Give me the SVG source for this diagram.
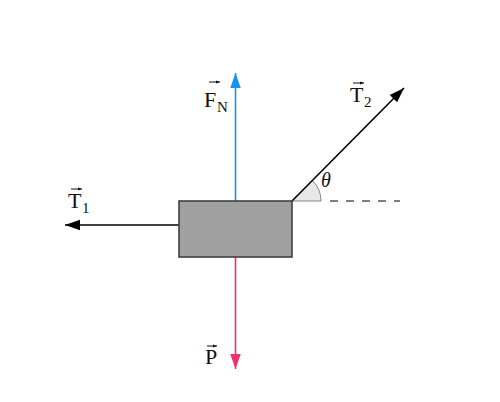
<svg xmlns="http://www.w3.org/2000/svg" width="500" height="402" viewBox="0 0 500 402">
<defs>
<style>
.lbl{font-family:"Liberation Serif","DejaVu Serif",serif;font-size:22px;fill:#111}
.sub{font-family:"Liberation Serif","DejaVu Serif",serif;font-size:15px;fill:#111}
.th{font-family:"Liberation Serif","DejaVu Serif",serif;font-size:20px;font-style:italic;fill:#111}
.vec{stroke:#111;stroke-width:1;fill:none}
</style>
<marker id="hb" viewBox="0 0 10 10" refX="10" refY="5" markerWidth="15" markerHeight="15" markerUnits="userSpaceOnUse" orient="auto"><path d="M0,1.5 L10,5 L0,8.5 Z" fill="#1a90f0"/></marker>
<marker id="hr" viewBox="0 0 10 10" refX="10" refY="5" markerWidth="15" markerHeight="15" markerUnits="userSpaceOnUse" orient="auto"><path d="M0,1.5 L10,5 L0,8.5 Z" fill="#f0306a"/></marker>
<marker id="hk" viewBox="0 0 10 10" refX="10" refY="5" markerWidth="15" markerHeight="15" markerUnits="userSpaceOnUse" orient="auto"><path d="M0,1.5 L10,5 L0,8.5 Z" fill="#000"/></marker>
<marker id="hv" viewBox="0 0 10 10" refX="10" refY="5" markerWidth="4.5" markerHeight="4.5" markerUnits="userSpaceOnUse" orient="auto"><path d="M0,1 L10,5 L0,9 Z" fill="#111"/></marker>
</defs>
<g id="connectors">
<line x1="235.5" y1="201" x2="235.5" y2="73" stroke="#1a90f0" stroke-width="1.6" marker-end="url(#hb)"/>
<line x1="235.5" y1="257" x2="235.5" y2="369" stroke="#f0306a" stroke-width="1.6" marker-end="url(#hr)"/>
<line x1="179" y1="225" x2="65" y2="225" stroke="#000" stroke-width="1.3" marker-end="url(#hk)"/>
<line x1="330" y1="201" x2="400" y2="201" stroke="#000" stroke-width="1.2" stroke-dasharray="8,8"/>
</g>
<g id="angle">
<path d="M292,201 L321,201 A29,29 0 0 0 312.5,180.5 Z" fill="#e8e8e8" stroke="none"/>
<path d="M321,201 A29,29 0 0 0 312.5,180.5" fill="none" stroke="#888" stroke-width="1"/>
<line x1="292" y1="201" x2="321" y2="201" stroke="#888" stroke-width="1"/>
<text class="th" x="321" y="187">θ</text>
</g>
<g id="T2-arrow">
<line x1="292" y1="201" x2="404" y2="88" stroke="#000" stroke-width="1.6" marker-end="url(#hk)"/>
</g>
<g id="block">
<rect x="179" y="201" width="113" height="56" fill="#a0a0a0" stroke="#404040" stroke-width="1.6"/>
</g>
<g id="label-FN">
<text class="lbl" x="204" y="107">F</text>
<text class="sub" x="217" y="112">N</text>
<line class="vec" x1="209" y1="82" x2="220" y2="82" marker-end="url(#hv)"/>
</g>
<g id="label-T2">
<text class="lbl" x="350" y="102">T</text>
<text class="sub" x="364" y="107">2</text>
<line class="vec" x1="353" y1="83" x2="364" y2="83" marker-end="url(#hv)"/>
</g>
<g id="label-T1">
<text class="lbl" x="68" y="208">T</text>
<text class="sub" x="82" y="213">1</text>
<line class="vec" x1="71" y1="189" x2="82" y2="189" marker-end="url(#hv)"/>
</g>
<g id="label-P">
<text class="lbl" x="205" y="364">P</text>
<line class="vec" x1="207" y1="346" x2="217" y2="346" marker-end="url(#hv)"/>
</g>
</svg>
